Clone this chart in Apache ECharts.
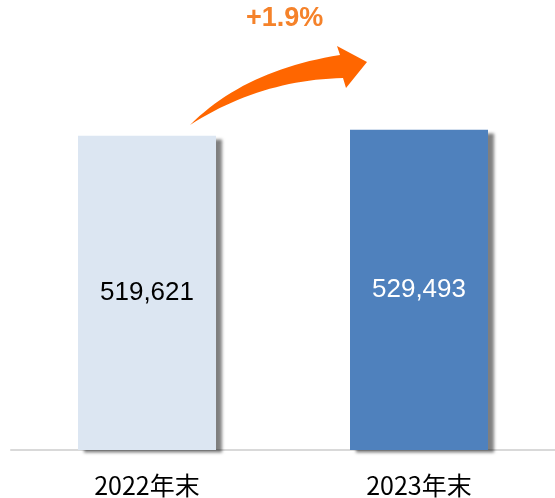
<!DOCTYPE html>
<html>
<head>
<meta charset="utf-8">
<script src="https://cdn.jsdelivr.net/npm/echarts@6/dist/echarts.min.js"></script>
<style>
  html, body { margin: 0; padding: 0; background: #fff; }
  #chart { width: 555px; height: 498px; }
</style>
</head>
<body>
<div id="chart"></div>
<script>
// data
const categories = ['2022年末', '2023年末'];
const values = [519621, 529493];
const barColors = ['#dce6f2', '#4f81bd'];
const labelColors = ['#000000', '#ffffff'];
const growthText = '+1.9%';

// quadratic curve -> points, for the growth arrow
function quad(p0, c, p1, n) {
  const pts = [];
  for (let i = 0; i <= n; i++) {
    const t = i / n, u = 1 - t;
    pts.push([u * u * p0[0] + 2 * u * t * c[0] + t * t * p1[0],
              u * u * p0[1] + 2 * u * t * c[1] + t * t * p1[1]]);
  }
  return pts;
}
const arrowPts = []
  .concat(quad([190, 125], [245, 70], [340, 55], 24))
  .concat([[337, 46], [367, 62], [346, 88]])
  .concat(quad([343, 78], [260, 80], [190, 125], 24));

const chart = echarts.init(document.getElementById('chart'));

const option = {
  animation: false,
  grid: { left: 11, right: 0, top: 87, bottom: 46 },
  xAxis: {
    type: 'category',
    data: categories,
    axisLine: { lineStyle: { color: '#d9d9d9', width: 2 } },
    axisTick: { show: false },
    axisLabel: {
      color: '#000',
      fontSize: 25,
      fontFamily: '"Noto Sans CJK SC", sans-serif',
      margin: 23
    }
  },
  yAxis: {
    type: 'value',
    min: 0,
    max: 600000,
    show: false,
    splitLine: { show: false }
  },
  series: [{
    type: 'bar',
    barWidth: 138,
    data: values.map((v, i) => ({
      value: v,
      itemStyle: { color: barColors[i] },
      label: { color: labelColors[i] }
    })),
    itemStyle: {
      borderWidth: 0,
      shadowColor: 'rgba(0,0,0,0.5)',
      shadowBlur: 3,
      shadowOffsetX: 6,
      shadowOffsetY: 3
    },
    label: {
      show: true,
      position: 'inside',
      fontSize: 26,
      fontFamily: '"Liberation Sans", Arial, sans-serif',
      formatter: p => p.value.toLocaleString('en-US')
    }
  }],
  graphic: [
    {
      type: 'polygon',
      shape: { points: arrowPts },
      style: { fill: '#ff6600' }
    },
    {
      type: 'text',
      left: 246,
      top: 5,
      style: {
        text: growthText,
        fill: '#f5822a',
        font: 'bold 27px "Liberation Sans", Arial, sans-serif'
      }
    }
  ]
};

chart.setOption(option);
</script>
</body>
</html>
